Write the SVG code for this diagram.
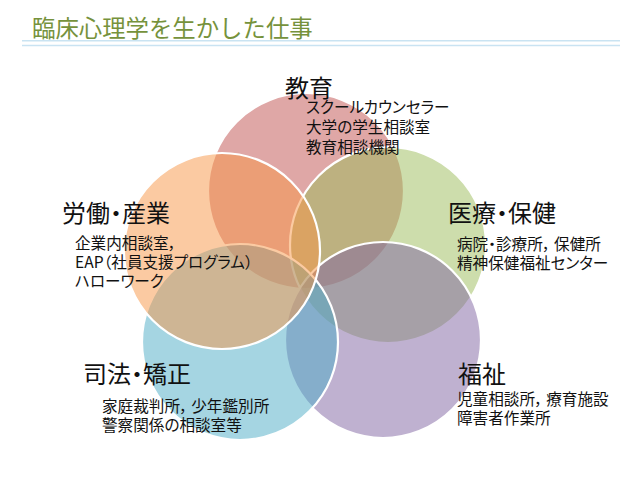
<svg xmlns="http://www.w3.org/2000/svg" width="638" height="479" viewBox="0 0 638 479">
<style>
text{font-family:"Noto Sans CJK JP","Noto Sans CJK SC",sans-serif;fill:#111}
.title{font-size:23.4px;fill:#76923C}
.h{font-size:24px;font-feature-settings:"palt"}
.s{font-size:15.6px;font-feature-settings:"palt"}
.c{stroke:#fff;stroke-width:2.2;fill-opacity:0.5}
</style>
<rect width="638" height="479" fill="#fff"/>
<g id="title">
<text class="title" x="32" y="36.5">臨床心理学を生かした仕事</text>
<line x1="22" y1="40.8" x2="620" y2="40.8" stroke="#C9E3F2" stroke-width="1.6"/>
<line x1="22" y1="45.5" x2="620" y2="45.5" stroke="#C9E3F2" stroke-width="1.6"/>
</g>
<g id="circles">
<circle id="c-edu" class="c" cx="306" cy="191" r="98" fill="#C0504D"/>
<circle id="c-med" class="c" cx="388" cy="245" r="98" fill="#9BBB59"/>
<circle id="c-wel" class="c" cx="383" cy="340" r="98" fill="#8064A2"/>
<circle id="c-jus" class="c" cx="240" cy="342" r="98" fill="#4BACC6"/>
<circle id="c-lab" class="c" cx="222" cy="251" r="98" fill="#F79646"/>
</g>
<g id="edu">
<text class="h" x="285" y="97">教育</text>
<text class="s" x="306" y="113">スクールカウンセラー</text>
<text class="s" x="306" y="133">大学の学生相談室</text>
<text class="s" x="306" y="153">教育相談機関</text>
</g>
<g id="lab">
<text class="h" x="62" y="222">労働・産業</text>
<text class="s" x="75" y="249">企業内相談室，</text>
<text class="s" x="75" y="268">EAP（社員支援プログラム）</text>
<text class="s" x="75" y="287">ハローワーク</text>
</g>
<g id="med">
<text class="h" x="448" y="222">医療・保健</text>
<text class="s" x="457" y="249.5">病院・診療所， 保健所</text>
<text class="s" x="457" y="268.5">精神保健福祉センター</text>
</g>
<g id="jus">
<text class="h" x="83" y="383">司法・矯正</text>
<text class="s" x="102" y="411.5">家庭裁判所， 少年鑑別所</text>
<text class="s" x="102" y="430.5">警察関係の相談室等</text>
</g>
<g id="wel">
<text class="h" x="458" y="383">福祉</text>
<text class="s" x="457" y="405">児童相談所， 療育施設</text>
<text class="s" x="457" y="424">障害者作業所</text>
</g>
</svg>
